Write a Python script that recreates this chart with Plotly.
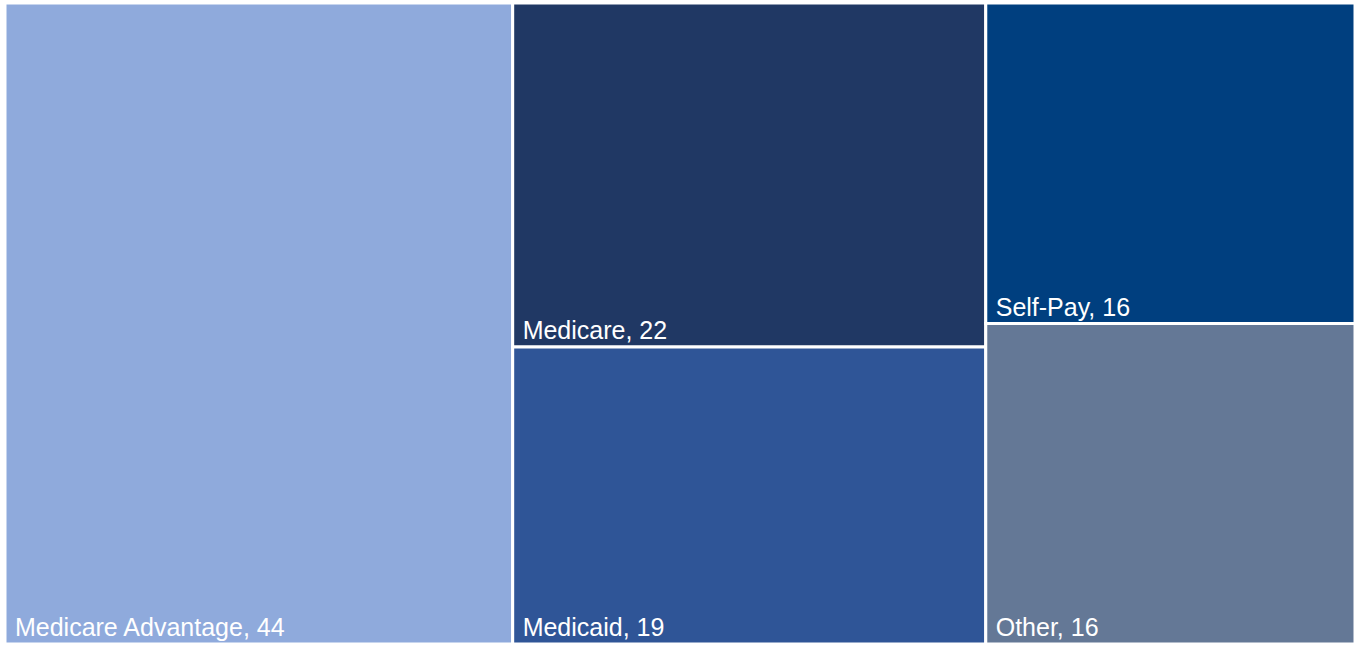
import plotly.graph_objects as go

labels = ["Medicare Advantage", "Medicare", "Medicaid", "Self-Pay", "Other"]
values = [44, 22, 19, 16, 16]
colors = ["#8FAADC", "#203864", "#2F5597", "#003F7F", "#647896"]

fig = go.Figure(go.Treemap(
    labels=labels,
    parents=[""] * len(labels),
    values=values,
    marker=dict(colors=colors, line=dict(color="white", width=3),
                pad=dict(t=0, l=0, r=0, b=0)),
    texttemplate="\u00a0%{label}, %{value}",
    textposition="bottom left",
    textfont=dict(family="Arial, Liberation Sans, sans-serif", size=25, color="white"),
    tiling=dict(packing="squarify", pad=0),
    pathbar=dict(visible=False),
    sort=True,
    hoverinfo="label+value",
))

fig.update_layout(
    width=1360, height=645,
    margin=dict(l=5, r=5, t=3, b=1),
    paper_bgcolor="white",
)

fig.write_html("out.html",
               config={"displayModeBar": False},
               post_script="document.body.style.margin='0';document.body.style.overflow='hidden';")
